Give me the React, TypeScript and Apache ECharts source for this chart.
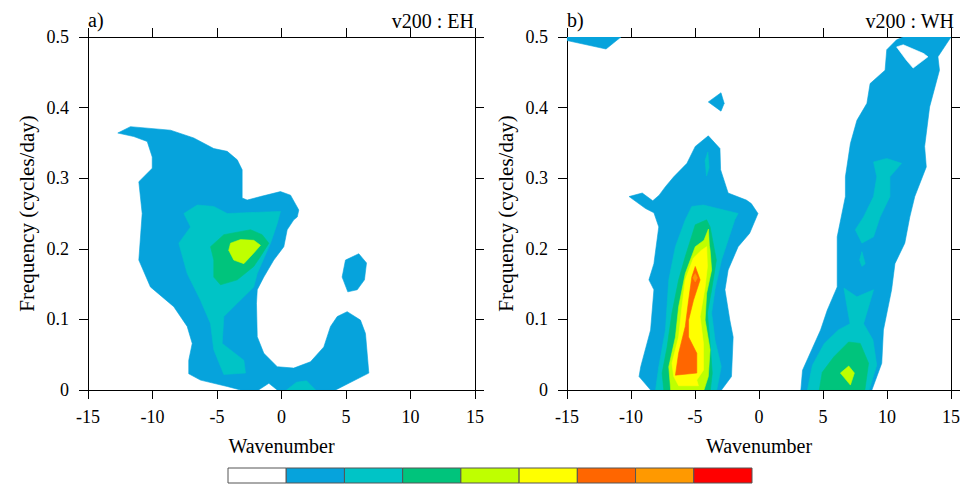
import { useEffect, useRef } from "react";
import * as echarts from "echarts";

// ---------- axes / labels ----------
const xTicks = [-15, -10, -5, 0, 5, 10, 15];
const yTicks = [0, 0.1, 0.2, 0.3, 0.4, 0.5];
const panelLetters = ["a)", "b)"];
const panelTitles = ["v200 : EH", "v200 : WH"];
const xName = "Wavenumber";
const yName = "Frequency (cycles/day)";

// contour level colours (index = level)
const levelColors = [
  "#ffffff", "#06a3dc", "#00c4c6", "#00c47c", "#bfff00",
  "#ffff00", "#ff6600", "#ff9900", "#ff0000",
];

// ---------- panel a) EH contour polygons [wavenumber, frequency] ----------
const ehBlue = [
  [-12.69, 0.364], [-11.71, 0.373], [-8.6, 0.368], [-6.8, 0.357], [-5.25, 0.342],
  [-4.21, 0.338], [-3.43, 0.326], [-3.05, 0.312], [-3.05, 0.272], [-2.66, 0.269],
  [-1.63, 0.274], [-0.08, 0.281], [0.7, 0.276], [1.34, 0.255], [1.22, 0.245],
  [0.95, 0.241], [0.44, 0.227], [0.18, 0.203], [-0.6, 0.184], [-1.37, 0.16],
  [-1.88, 0.142], [-1.94, 0.123], [-1.88, 0.0755], [-1.37, 0.052], [-0.33, 0.033],
  [0.95, 0.031], [2.25, 0.04], [3.28, 0.061], [3.8, 0.09], [4.32, 0.104],
  [5.09, 0.111], [6.12, 0.099], [6.51, 0.08], [6.77, 0.024], [4.19, 0],
  [-0.33, 0], [-0.98, 0.0095], [-1.78, 0], [-3.18, 0], [-4.21, 0.005],
  [-6.28, 0.014], [-7.19, 0.023], [-7.19, 0.042], [-6.92, 0.066], [-7.31, 0.09],
  [-8.35, 0.118], [-10.16, 0.146], [-11.06, 0.184], [-10.8, 0.25], [-11.06, 0.295],
  [-10.02, 0.314], [-10.02, 0.33], [-10.41, 0.352], [-11.45, 0.359],
];
const ehBlueSpot = [
  [5.99, 0.193], [6.59, 0.18], [6.43, 0.156], [5.87, 0.142], [5.14, 0.139],
  [4.7, 0.16], [4.96, 0.184],
];
const ehCyan = [
  [-7.57, 0.25], [-6.53, 0.262], [-5.25, 0.26], [-4.21, 0.25], [-0.08, 0.253],
  [-0.33, 0.236], [-0.85, 0.208], [-1.88, 0.165], [-2.15, 0.146], [-3.43, 0.123],
  [-4.47, 0.104], [-4.6, 0.066], [-2.92, 0.042], [-2.79, 0.024], [-4.47, 0.022],
  [-5.25, 0.057], [-5.5, 0.094], [-6.28, 0.127], [-7.31, 0.165], [-7.96, 0.208],
  [-7.05, 0.231],
];
const ehCyanBottom = [[0.39, 0], [1.16, 0.011], [1.94, 0.013], [2.64, 0]];
const ehGreen = [
  [-5.5, 0.203], [-4.47, 0.22], [-2.4, 0.227], [-1.5, 0.22], [-0.98, 0.208],
  [-1.63, 0.189], [-2.15, 0.175], [-3.43, 0.156], [-4.73, 0.149], [-5.25, 0.16],
  [-5.25, 0.184],
];
const ehLime = [
  [-3.95, 0.208], [-3.18, 0.213], [-2.15, 0.212], [-1.63, 0.205], [-2.15, 0.194],
  [-2.92, 0.179], [-3.7, 0.184], [-4.09, 0.198],
];

// ---------- panel b) WH contour polygons ----------
const whBlueTop = [[-15, 0.5], [-10.79, 0.5], [-11.95, 0.483], [-15, 0.495]];
const whBlueSpot = [[-3.96, 0.408], [-2.97, 0.421], [-2.72, 0.406], [-2.97, 0.395]];
const whBlueLeft = [
  [-8.47, 0], [-9.37, 0.019], [-9.24, 0.033], [-8.47, 0.085], [-8.21, 0.142],
  [-8.6, 0.156], [-8.21, 0.179], [-7.83, 0.231], [-8.21, 0.251], [-8.86, 0.257],
  [-10.15, 0.274], [-9.12, 0.279], [-8.3, 0.268], [-7.8, 0.276], [-7.31, 0.288],
  [-6.66, 0.302], [-5.63, 0.321], [-4.98, 0.345], [-3.96, 0.36], [-3.05, 0.342],
  [-3.0, 0.312], [-2.41, 0.279], [-0.99, 0.269], [-0.6, 0.264], [-0.08, 0.25],
  [-0.73, 0.222], [-1.63, 0.203], [-2.41, 0.17], [-2.66, 0.142], [-2.28, 0.099],
  [-2.02, 0.075], [-2.15, 0.019], [-2.93, 0],
];
const whCyanLeft = [
  [-5.25, 0.26], [-4.34, 0.262], [-1.63, 0.25], [-1.89, 0.241], [-2.93, 0.184],
  [-3.44, 0.142], [-3.7, 0.109], [-3.44, 0.071], [-2.95, 0.033], [-3.3, 0],
  [-8.08, 0], [-7.83, 0.033], [-7.31, 0.085], [-7.05, 0.156], [-6.53, 0.203],
  [-5.76, 0.241],
];
const whCyanSpot = [[-4.21, 0.325], [-4.0, 0.337], [-3.9, 0.315], [-4.1, 0.303]];
const whGreenLeft = [
  [-4.98, 0.234], [-4.09, 0.241], [-3.82, 0.231], [-3.33, 0.184], [-3.7, 0.142],
  [-4.03, 0.109], [-3.8, 0.061], [-3.65, 0.024], [-3.8, 0], [-7.44, 0],
  [-7.57, 0.024], [-7.18, 0.061], [-6.8, 0.109], [-6.28, 0.156], [-5.76, 0.189],
];
const whLimeLeft = [
  [-4.98, 0.203], [-4.3, 0.212], [-3.95, 0.228], [-3.88, 0.205], [-3.82, 0.198],
  [-3.7, 0.17], [-4.09, 0.137], [-4.21, 0.099], [-3.82, 0.057], [-3.96, 0.019],
  [-4.3, 0], [-6.9, 0], [-7.05, 0.033], [-6.53, 0.075], [-6.28, 0.118],
  [-5.76, 0.165],
];
const whYellowLeft = [
  [-5.12, 0.187], [-4.5, 0.198], [-4.09, 0.203], [-4.03, 0.175], [-4.21, 0.146],
  [-4.6, 0.104], [-4.34, 0.066], [-4.34, 0.028], [-4.86, 0.014], [-4.73, 0.006],
  [-6.28, 0.006], [-6.66, 0.019], [-6.8, 0.038], [-6.28, 0.075], [-6.02, 0.118],
  [-5.76, 0.156],
];
const whOrangeRedLeft = [
  [-4.98, 0.175], [-4.6, 0.156], [-5.12, 0.127], [-5.5, 0.099], [-5.5, 0.075],
  [-4.86, 0.052], [-4.86, 0.024], [-6.53, 0.021], [-6.28, 0.052], [-5.76, 0.09],
  [-5.5, 0.127], [-5.25, 0.16],
];
const whOrangeLeft = [[-4.98, 0.165], [-4.81, 0.159], [-4.98, 0.153], [-5.17, 0.159]];
const whBlueRight = [
  [3.27, 0], [3.4, 0.028], [4.81, 0.085], [5.33, 0.113], [6.11, 0.146],
  [6.11, 0.217], [6.75, 0.274], [6.75, 0.302], [7.14, 0.349], [7.65, 0.382],
  [8.43, 0.406], [8.68, 0.434], [9.85, 0.453], [9.98, 0.482], [10.75, 0.496],
  [11.27, 0.5], [15, 0.5], [13.98, 0.472], [14.1, 0.453], [13.33, 0.401],
  [12.94, 0.345], [13.07, 0.316], [12.17, 0.274], [11.78, 0.245], [11.39, 0.208],
  [10.62, 0.179], [10.36, 0.142], [9.72, 0.085], [9.59, 0.038], [8.82, 0],
];
const whHoleRight = [
  [10.75, 0.486], [11.27, 0.489], [12.82, 0.477], [13.2, 0.472], [12.04, 0.456],
  [11.52, 0.467],
];
const whCyanRightUpper = [
  [8.95, 0.323], [9.98, 0.328], [11.14, 0.321], [10.23, 0.302], [10.23, 0.274],
  [9.46, 0.245], [8.95, 0.217], [8.04, 0.208], [7.52, 0.227], [8.17, 0.245],
  [8.95, 0.274], [9.2, 0.302],
];
const whCyanRightSpot = [[8.04, 0.196], [8.3, 0.179], [8.04, 0.175], [7.86, 0.184]];
const whCyanRightLower = [
  [6.63, 0.1445], [7.65, 0.132], [8.95, 0.142], [8.17, 0.094], [8.9, 0.071],
  [9.2, 0.035], [8.6, 0], [3.78, 0], [4.17, 0.035], [5.1, 0.066], [6.2, 0.085],
  [7.11, 0.094],
];
const whGreenRight = [
  [7.0, 0.068], [7.91, 0.066], [8.56, 0.038], [8.27, 0], [4.71, 0], [4.94, 0.025],
  [5.85, 0.047],
];
const whLimeRight = [[7.01, 0.034], [7.45, 0.024], [7.14, 0.007], [6.36, 0.024]];

type Poly = { level: number; pts: number[][] };

const ehPolys: Poly[] = [
  { level: 1, pts: ehBlue },
  { level: 1, pts: ehBlueSpot },
  { level: 2, pts: ehCyan },
  { level: 2, pts: ehCyanBottom },
  { level: 3, pts: ehGreen },
  { level: 4, pts: ehLime },
];
const whPolys: Poly[] = [
  { level: 1, pts: whBlueTop },
  { level: 1, pts: whBlueSpot },
  { level: 1, pts: whBlueLeft },
  { level: 1, pts: whBlueRight },
  { level: 0, pts: whHoleRight },
  { level: 2, pts: whCyanLeft },
  { level: 2, pts: whCyanSpot },
  { level: 2, pts: whCyanRightUpper },
  { level: 2, pts: whCyanRightSpot },
  { level: 2, pts: whCyanRightLower },
  { level: 3, pts: whGreenLeft },
  { level: 3, pts: whGreenRight },
  { level: 4, pts: whLimeLeft },
  { level: 4, pts: whLimeRight },
  { level: 5, pts: whYellowLeft },
  { level: 6, pts: whOrangeRedLeft },
  { level: 7, pts: whOrangeLeft },
];

const FONT = "'Liberation Serif', 'DejaVu Serif', serif";

export default function App() {
  const ref = useRef<HTMLDivElement>(null);

  useEffect(() => {
    if (!ref.current) return;
    const chart = echarts.init(ref.current, undefined, { renderer: "svg" });

    const grids = [
      { left: 88, top: 37, width: 387, height: 353 },
      { left: 567, top: 37, width: 388, height: 353 },
    ];

    const axisLine = { show: true, onZero: false, lineStyle: { color: "#000", width: 1 } };
    const axisTick = { show: true, inside: false, length: 9, lineStyle: { color: "#000", width: 1 } };
    const labelStyle = { color: "#000", fontSize: 18, fontFamily: FONT };

    const xAxes: any[] = [];
    const yAxes: any[] = [];
    grids.forEach((_, gi) => {
      const xBase = {
        type: "value", gridIndex: gi, min: xTicks[0], max: xTicks[xTicks.length - 1],
        interval: 5, splitLine: { show: false }, axisLine, axisTick,
      };
      xAxes.push({
        ...xBase, position: "bottom",
        axisLabel: { ...labelStyle, margin: 18, formatter: (v: number) => String(v) },
        name: xName, nameLocation: "middle", nameGap: 46,
        nameTextStyle: { color: "#000", fontSize: 20, fontFamily: FONT },
      });
      xAxes.push({ ...xBase, position: "top", axisLabel: { show: false } });
      const yBase = {
        type: "value", gridIndex: gi, min: yTicks[0], max: yTicks[yTicks.length - 1],
        interval: 0.1, splitLine: { show: false }, axisLine, axisTick,
      };
      yAxes.push({
        ...yBase, position: "left",
        axisLabel: { ...labelStyle, margin: 19, formatter: (v: number) => (v === 0 ? "0" : v.toFixed(1)) },
        name: yName, nameLocation: "middle", nameGap: 51,
        nameTextStyle: { color: "#000", fontSize: 21, fontFamily: FONT },
      });
      yAxes.push({ ...yBase, position: "right", axisLabel: { show: false } });
    });

    const makeSeries = (polys: Poly[], gi: number) => ({
      type: "custom",
      xAxisIndex: gi * 2,
      yAxisIndex: gi * 2,
      clip: true,
      silent: true,
      data: polys.map((p, i) => [p.pts[0][0], p.pts[0][1], i]),
      encode: { x: 0, y: 1 },
      renderItem: (params: any, api: any) => {
        const poly = polys[params.dataIndex];
        const points = poly.pts.map((pt) => api.coord(pt));
        const c = levelColors[poly.level];
        return {
          type: "polygon",
          shape: { points },
          style: { fill: c, stroke: c, lineWidth: 0.6 },
        };
      },
    });

    const barLeft = 228;
    const barWidth = 524;
    const cell = barWidth / levelColors.length;
    const colorbar = levelColors.map((c, i) => ({
      type: "rect",
      shape: { x: barLeft + i * cell, y: 468, width: cell, height: 15 },
      style: { fill: c, stroke: "#555", lineWidth: 1 },
      silent: true,
    }));

    const titles: any[] = [];
    grids.forEach((g, gi) => {
      titles.push({
        type: "text", x: g.left, y: 20,
        style: { text: panelLetters[gi], fontSize: 20, fontFamily: FONT, fill: "#000", align: "left", verticalAlign: "middle" },
      });
      titles.push({
        type: "text", x: g.left + g.width - 1, y: 21,
        style: { text: panelTitles[gi], fontSize: 20, fontFamily: FONT, fill: "#000", align: "right", verticalAlign: "middle" },
      });
    });

    chart.setOption({
      animation: false,
      backgroundColor: "#ffffff",
      grid: grids,
      xAxis: xAxes,
      yAxis: yAxes,
      series: [makeSeries(ehPolys, 0), makeSeries(whPolys, 1)],
      graphic: [...colorbar, ...titles],
    });

    return () => chart.dispose();
  }, []);

  return (
    <div
      ref={ref}
      style={{ position: "absolute", left: 0, top: 0, width: 963, height: 485, background: "#fff" }}
    />
  );
}
